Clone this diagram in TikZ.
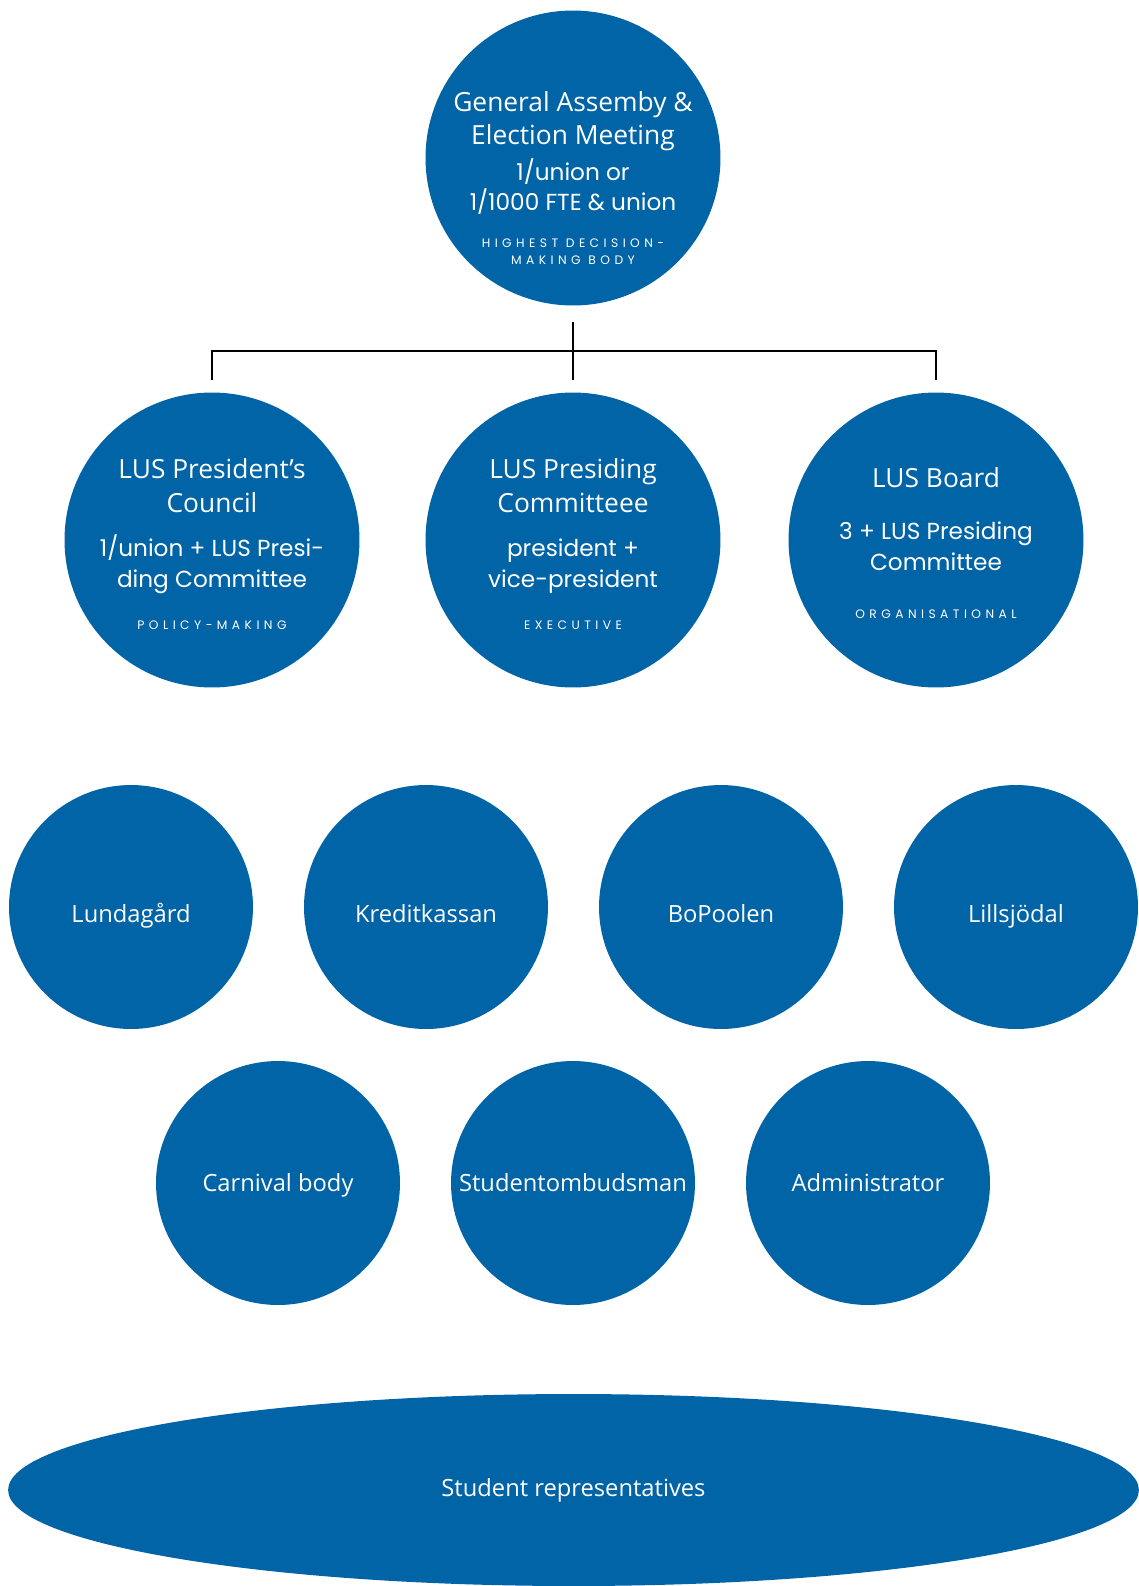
\documentclass[tikz,border=0pt]{standalone}
\usepackage{fontspec}
\setmainfont{Open Sans}
\newfontfamily\thinfont{Poppins}
\newfontfamily\capsfont[LetterSpace=36]{Poppins}
\usetikzlibrary{shapes.geometric}
\definecolor{lusblue}{RGB}{0,100,166}
\newcommand{\headsize}{\fontsize{15}{18.7}\selectfont}
\newcommand{\subsize}{\thinfont\fontsize{13.2}{18.7}\selectfont}
\newcommand{\capsize}{\capsfont\fontsize{7}{18.7}\selectfont}

\begin{document}
\begin{tikzpicture}[x=0.02cm, y=-0.02cm,
    disc/.style={circle, fill=lusblue, text=white, inner sep=0pt, align=center},
    body/.style={disc, minimum size=5.9cm},
    bodytext/.style={text=white, align=center, font=\headsize},
    unit/.style={disc, minimum size=4.88cm, font=\fontsize{13.5}{16}\selectfont, text height=0.56cm, text depth=0.24cm},
    bar/.style={line width=1.2pt, black}]
    \useasboundingbox (0,0) rectangle (1139,1586);
    % Top level
    \node[body] (gam) at (573,158) {};
    \node[bodytext, yshift=-0.4cm] (gamtext) at (gam) {General Assemby \&\\ Election Meeting\\[1.7pt] \subsize 1/union or\\[-1.7pt] \subsize 1/1000 FTE \& union\\[2.3pt] \capsize HIGHEST DECISION-\\[-9.1pt] \capsize MAKING BODY};
    % Presiding bodies
    \node[body] (council) at (212,540) {};
    \node[body] (presiding) at (573,540) {};
    \node[body] (board) at (936,540) {};
    \node[bodytext, yshift=-0.08cm] (counciltext) at (council) {LUS President's\\[0.6pt] Council\\[6.2pt] \subsize 1/union + LUS Presi-\\[-1.1pt] \subsize ding Committee\\[5.1pt] \capsize POLICY-MAKING};
    \node[bodytext, yshift=-0.08cm] (presidingtext) at (presiding) {LUS Presiding\\[0.6pt] Committeee\\[6.2pt] \subsize president +\\[-1.1pt] \subsize vice-president\\[5.1pt] \capsize EXECUTIVE};
    \node[bodytext, yshift=-0.06cm] (boardtext) at (board) {LUS Board\\[10.8pt] \subsize 3 + LUS Presiding\\[-1.1pt] \subsize Committee\\[8.5pt] \capsize ORGANISATIONAL};
    \coordinate (stemtop) at (573,322);
    \coordinate (stembot) at (573,380);
    \coordinate (barleft) at (212,351);
    \coordinate (barright) at (936,351);
    \coordinate (dropleft) at (212,380);
    \coordinate (dropright) at (936,380);
    \draw[bar] (stemtop) -- (stembot);
    \draw[bar] (dropleft) -- (barleft) -- (barright) -- (dropright);
    % Units
    \foreach \name/\x/\txt in {lundagard/131/Lundagård, kredit/426/Kreditkassan, bopoolen/721/BoPoolen, lillsjodal/1016/Lillsjödal}
        \node[unit, text height=0.7cm, text depth=0.1cm] (\name) at (\x,907) {\txt};
    \foreach \name/\x/\txt in {carnival/278/Carnival body, ombud/573/Studentombudsman, admin/868/Administrator}
        \node[unit] (\name) at (\x,1183) {\txt};
    % Student representatives
    \node[ellipse, fill=lusblue, text=white, minimum width=22.62cm, minimum height=3.84cm, font=\fontsize{13.5}{16}\selectfont] (reps) at (573.5,1490) {Student representatives};
\end{tikzpicture}
\end{document}
